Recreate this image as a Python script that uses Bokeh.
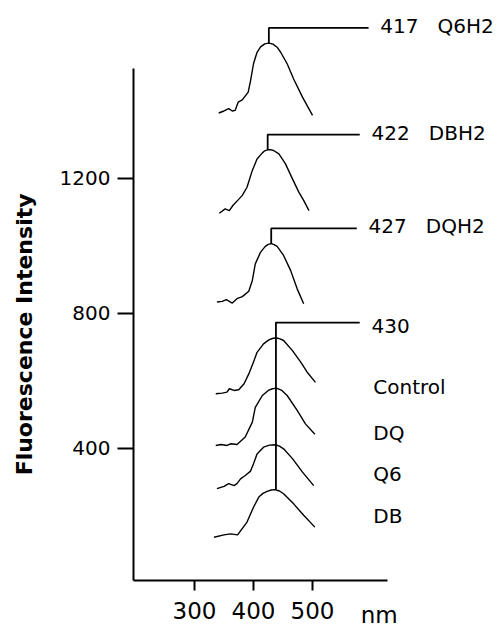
import numpy as np
from math import pi
from bokeh.plotting import figure
from bokeh.models import FixedTicker, Range1d
from bokeh.embed import file_html
from bokeh.resources import INLINE
from bokeh.core.properties import value

# ---------------- data (wavelength in nm, fluorescence intensity) ----------------
q6h2_nm = [341, 350, 358, 364, 369, 374, 381, 391, 395, 400, 406, 412, 419, 426, 433, 440, 446, 457, 468, 483, 500]
q6h2_int = [1394, 1400, 1407, 1400, 1402, 1426, 1433, 1456, 1490, 1540, 1574, 1590, 1599, 1601, 1598, 1589, 1574, 1540, 1495, 1441, 1387]

dbh2_nm = [342, 352, 359, 365, 372, 381, 389, 398, 406, 415, 419, 424, 430, 434, 443, 454, 466, 477, 485, 494]
dbh2_int = [1097, 1110, 1105, 1120, 1133, 1150, 1174, 1224, 1258, 1276, 1282, 1285, 1285, 1283, 1273, 1244, 1199, 1159, 1135, 1105]

dqh2_nm = [338, 347, 354, 364, 372, 381, 392, 398, 403, 412, 420, 425, 430, 435, 440, 451, 463, 474, 485]
dqh2_int = [834, 836, 841, 831, 844, 850, 866, 898, 947, 982, 999, 1005, 1007, 1004, 999, 972, 927, 873, 829]

control_nm = [336, 347, 355, 359, 367, 375, 384, 392, 400, 406, 417, 426, 432, 438, 445, 451, 466, 480, 491, 505]
control_int = [562, 564, 567, 577, 572, 574, 592, 621, 656, 685, 710, 722, 726, 728, 725, 720, 690, 656, 626, 596]

dq_nm = [336, 345, 355, 362, 372, 386, 398, 403, 415, 425, 432, 439, 448, 457, 474, 488, 504]
dq_int = [409, 412, 409, 414, 412, 434, 478, 522, 557, 572, 577, 579, 572, 557, 513, 473, 442]

q6_nm = [338, 350, 358, 367, 372, 378, 386, 395, 400, 406, 417, 427, 437, 444, 451, 466, 483, 502]
q6_int = [281, 288, 296, 290, 296, 310, 320, 333, 355, 384, 404, 410, 411, 407, 399, 370, 330, 290]

db_nm = [333, 350, 361, 373, 389, 400, 409, 416, 423, 430, 436, 444, 451, 468, 485, 504]
db_int = [137, 144, 147, 144, 182, 226, 256, 267, 273, 277, 278, 274, 266, 236, 202, 167]

h2_names = ["Q6H2", "DBH2", "DQH2"]
h2_peaks = ["417", "422", "427"]
ctrl_names = ["Control", "DQ", "Q6", "DB"]
ctrl_peak = "430"
y_ticks = [400, 800, 1200]
x_ticks = [300, 400, 500]
x_unit = "nm"
y_title = "Fluorescence Intensity"

# ---------------- layout constants ----------------
X_AXIS_AT = 9          # intensity level of the x axis line
Y_AXIS_AT = 196.6      # wavelength where the y axis line stands
X_AXIS_END = 627
Y_AXIS_END = 1526
H2_LABEL_X = [615, 600, 595]
CTRL_LABEL_X = 600
NAME_X = 603
NAME_Y = [581, 447, 323, 199]
MARK_RISE = 45
TITLE_X, TITLE_Y = 11.9, 738
UNIT_X = 613
FONT = "DejaVu Sans"

p = figure(width=498, height=632, output_backend="svg", toolbar_location=None,
           x_range=Range1d(-28.8, 815.2), y_range=Range1d(-145.2, 1727.4),
           min_border_left=0, min_border_right=0, min_border_top=0, min_border_bottom=0)
p.xgrid.visible = False
p.ygrid.visible = False
p.outline_line_color = None
p.background_fill_color = "white"
p.border_fill_color = "white"

xa = p.xaxis[0]
xa.fixed_location = X_AXIS_AT
xa.ticker = FixedTicker(ticks=x_ticks)
xa.bounds = (Y_AXIS_AT, X_AXIS_END)
xa.axis_line_width = 2
xa.major_tick_line_width = 2
xa.major_tick_out = 10
xa.major_tick_in = 0
xa.minor_tick_line_color = None
xa.major_label_standoff = 12
xa.major_label_text_font = FONT
xa.major_label_text_font_size = "23px"
xa.major_label_text_color = "black"

ya = p.yaxis[0]
ya.fixed_location = Y_AXIS_AT
ya.ticker = FixedTicker(ticks=y_ticks)
ya.bounds = (X_AXIS_AT, Y_AXIS_END)
ya.axis_line_width = 2
ya.major_tick_line_width = 2
ya.major_tick_out = 16
ya.major_tick_in = 0
ya.minor_tick_line_color = None
ya.major_label_standoff = 7
ya.major_label_text_font = FONT
ya.major_label_text_font_size = "20px"
ya.major_label_text_color = "black"

# spectra
all_sets = [(q6h2_nm, q6h2_int), (dbh2_nm, dbh2_int), (dqh2_nm, dqh2_int),
            (control_nm, control_int), (dq_nm, dq_int), (q6_nm, q6_int), (db_nm, db_int)]
for nm, it in all_sets:
    p.line(nm, it, line_color="black", line_width=1.4, line_join="round")

# peak markers for reduced quinones
for (nm, it), pk, name, lx in zip(all_sets[:3], h2_peaks, h2_names, H2_LABEL_X):
    i = int(np.argmax(it))
    px, py = nm[i], it[i]
    level = py + MARK_RISE
    p.line([px, px, lx - 20], [py, level, level], line_color="black", line_width=1.8)
    p.text(x=[lx], y=[level], text=[pk + "\u00a0\u00a0\u00a0" + name],
           text_font=value(FONT), text_font_size="20px", text_color="black",
           text_baseline="middle", text_align="left", y_offset=-2)

# common peak marker for the control group
ci = int(np.argmax(control_int))
cx = control_nm[ci]
clevel = control_int[ci] + MARK_RISE
db_peak = max(db_int)
p.line([cx, cx, CTRL_LABEL_X - 20], [db_peak, clevel, clevel], line_color="black", line_width=1.8)
p.text(x=[CTRL_LABEL_X], y=[clevel], text=[ctrl_peak], text_font=value(FONT),
       text_font_size="20px", text_color="black", text_baseline="top", y_offset=-4)
p.text(x=[NAME_X] * len(ctrl_names), y=NAME_Y, text=ctrl_names, text_font=value(FONT),
       text_font_size="20px", text_color="black", text_baseline="middle")

# unit label and y title
p.text(x=[UNIT_X], y=[X_AXIS_AT], text=[x_unit], text_font=value(FONT), text_font_size="23px",
       text_align="center", text_baseline="top", text_color="black", y_offset=22)
p.text(x=[TITLE_X], y=[TITLE_Y], text=[y_title], angle=pi / 2, text_font=value(FONT),
       text_font_size="22px", text_font_style="bold", text_align="center",
       text_baseline="middle", text_color="black")

open("out.html", "w").write(file_html(p, INLINE))
